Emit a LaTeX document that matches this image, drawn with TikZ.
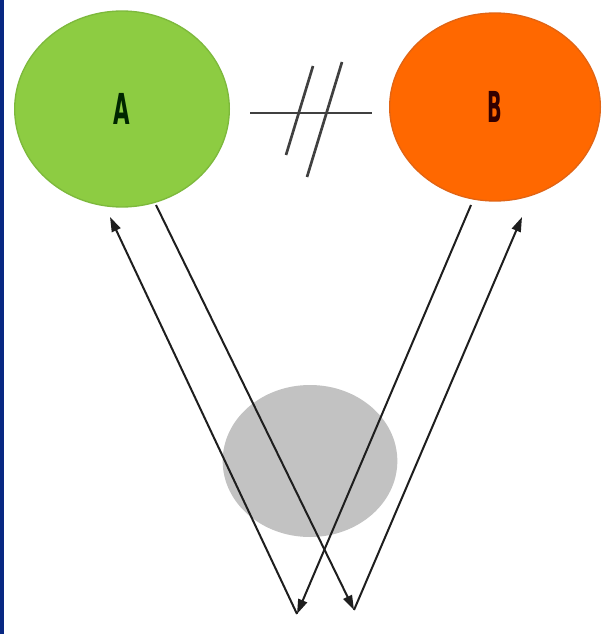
\documentclass[tikz,border=0pt]{standalone}
\usepackage{fontspec}
\newfontfamily\labfont{DejaVu Sans}
\usetikzlibrary{shapes.geometric,arrows.meta}
\definecolor{navy}{RGB}{8,40,130}
\definecolor{agreen}{RGB}{141,204,66}
\definecolor{agreenedge}{RGB}{125,185,60}
\definecolor{borange}{RGB}{255,104,0}
\definecolor{borangeedge}{RGB}{225,100,20}
\definecolor{ggray}{RGB}{194,194,194}
\definecolor{linec}{RGB}{30,30,30}
\tikzset{
  ball/.style={ellipse, inner sep=0pt, font=\labfont\bfseries\fontsize{32}{36}\selectfont},
  ray/.style={draw=linec, line width=1.5pt, -{Triangle[length=11pt,width=7pt]}},
  neq/.style={draw=linec!85, line width=2pt}
}
\begin{document}
\begin{tikzpicture}[x=0.75pt,y=-0.75pt]
\useasboundingbox (0,0) rectangle (601,634);
\fill[white] (0,0) rectangle (601,634);
\fill[navy] (0,0) rectangle (4,634);
% circles
\node[ball, fill=agreen, draw=agreenedge, line width=1pt, minimum width=161pt, minimum height=147pt] (A) at (122,109) {\scalebox{0.5}[1]{\textcolor{black!85!green}{A}}};
\node[ball, fill=borange, draw=borangeedge, line width=1pt, minimum width=158pt, minimum height=141pt] (B) at (495,107) {\scalebox{0.45}[1]{\textcolor{black!80!red}{B}}};
\node[ellipse, fill=ggray, inner sep=0pt, minimum width=131pt, minimum height=114pt] (G) at (310,461) {};
% not-equal sign
\draw[neq] (250,113) -- (372,113);
\draw[neq] (313,66) -- (286,155);
\draw[neq] (342,62) -- (307,177);
% ray endpoints
\coordinate (a1) at (110,217);
\coordinate (a2) at (156,205);
\coordinate (b1) at (471,205);
\coordinate (b2) at (522,217);
\coordinate (p1) at (297,614);
\coordinate (p2) at (354,610);
% rays
\draw[ray] (a2) -- (p2);
\draw[ray] (p2) -- (b2);
\draw[ray] (b1) -- (p1);
\draw[ray] (p1) -- (a1);
\end{tikzpicture}
\end{document}
